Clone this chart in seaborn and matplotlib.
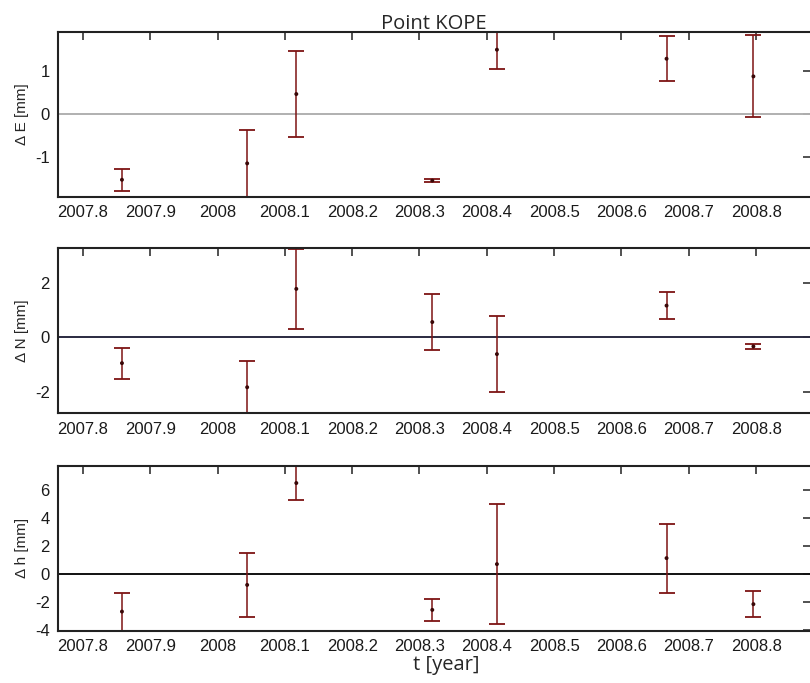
import numpy as np
import pandas as pd
import matplotlib
matplotlib.use("Agg")
import matplotlib.pyplot as plt
import seaborn as sns

sns.set_theme(style="white")
plt.rcParams['font.family'] = ['Liberation Sans', 'DejaVu Sans']
plt.rcParams['axes.unicode_minus'] = False

# epochs (decimal year)
t = [2007.858, 2008.044, 2008.117, 2008.319, 2008.415, 2008.667, 2008.796]

# differences and their errors [mm]
dE = [-1.53, -1.15, 0.46, -1.55, 1.49, 1.28, 0.87]
sE = [0.26, 0.78, 1.00, 0.03, 0.45, 0.52, 0.95]
dN = [-0.94, -1.82, 1.77, 0.56, -0.61, 1.16, -0.33]
sN = [0.57, 0.94, 1.46, 1.02, 1.40, 0.50, 0.09]
dh = [-2.68, -0.77, 6.53, -2.56, 0.72, 1.15, -2.15]
sh = [1.36, 2.27, 1.25, 0.80, 4.30, 2.47, 0.93]

xticks = [2007.8, 2007.9, 2008.0, 2008.1, 2008.2, 2008.3, 2008.4, 2008.5, 2008.6, 2008.7, 2008.8]
xticklabels = ['2007.8', '2007.9', '2008', '2008.1', '2008.2', '2008.3', '2008.4',
               '2008.5', '2008.6', '2008.7', '2008.8']

panels = [
    (dE, sE, 'Δ E [mm]', (-1.93, 1.90), [-1, 0, 1], '#b0b0b0'),
    (dN, sN, 'Δ N [mm]', (-2.77, 3.25), [-2, 0, 2], '#2a2a40'),
    (dh, sh, 'Δ h [mm]', (-4.05, 7.77), [-4, -2, 0, 2, 4, 6], '#111111'),
]
positions = [0.7116, 0.3949, 0.0766]
height = 0.2415

fig = plt.figure(figsize=(8.1, 6.83), dpi=100)
bar_col = '#7d1414'

for (vals, errs, ylab, ylim, yticks, zcol), bottom in zip(panels, positions):
    ax = fig.add_axes([0.0716, bottom, 0.93, height])
    df = pd.DataFrame({'t': t, 'v': vals, 'e': errs})
    ax.axhline(0, color=zcol, lw=1.4, zorder=1)
    ax.errorbar(df['t'], df['v'], yerr=df['e'], fmt='none', ecolor=bar_col,
                elinewidth=1.1, capsize=5.5, capthick=1.3, zorder=2)
    sns.scatterplot(data=df, x='t', y='v', ax=ax, color='#3a0808', s=8,
                    edgecolor='none', zorder=3)
    ax.set_xlim(2007.763, 2008.882)
    ax.set_ylim(*ylim)
    ax.set_xticks(xticks)
    ax.set_xticklabels(xticklabels)
    ax.set_yticks(yticks)
    ax.tick_params(direction='in', top=True, right=True, length=6, width=1.2,
                   color='#333333', labelsize=12, pad=6, labelcolor='#1a1a1a')
    ax.set_xlabel('')
    ax.set_ylabel(ylab, fontsize=11, labelpad=4)
    for sp in ax.spines.values():
        sp.set_color('#222222')
        sp.set_linewidth(1.5)

fig.text(0.536, 0.965, 'Point KOPE', ha='center', va='center', fontsize=14.5,
         family=['Open Sans', 'DejaVu Sans'])
fig.text(0.551, 0.026, 't [year]', ha='center', va='center', fontsize=14.5,
         family=['Open Sans', 'DejaVu Sans'])

plt.savefig('out.png', dpi=100)
plt.close()
